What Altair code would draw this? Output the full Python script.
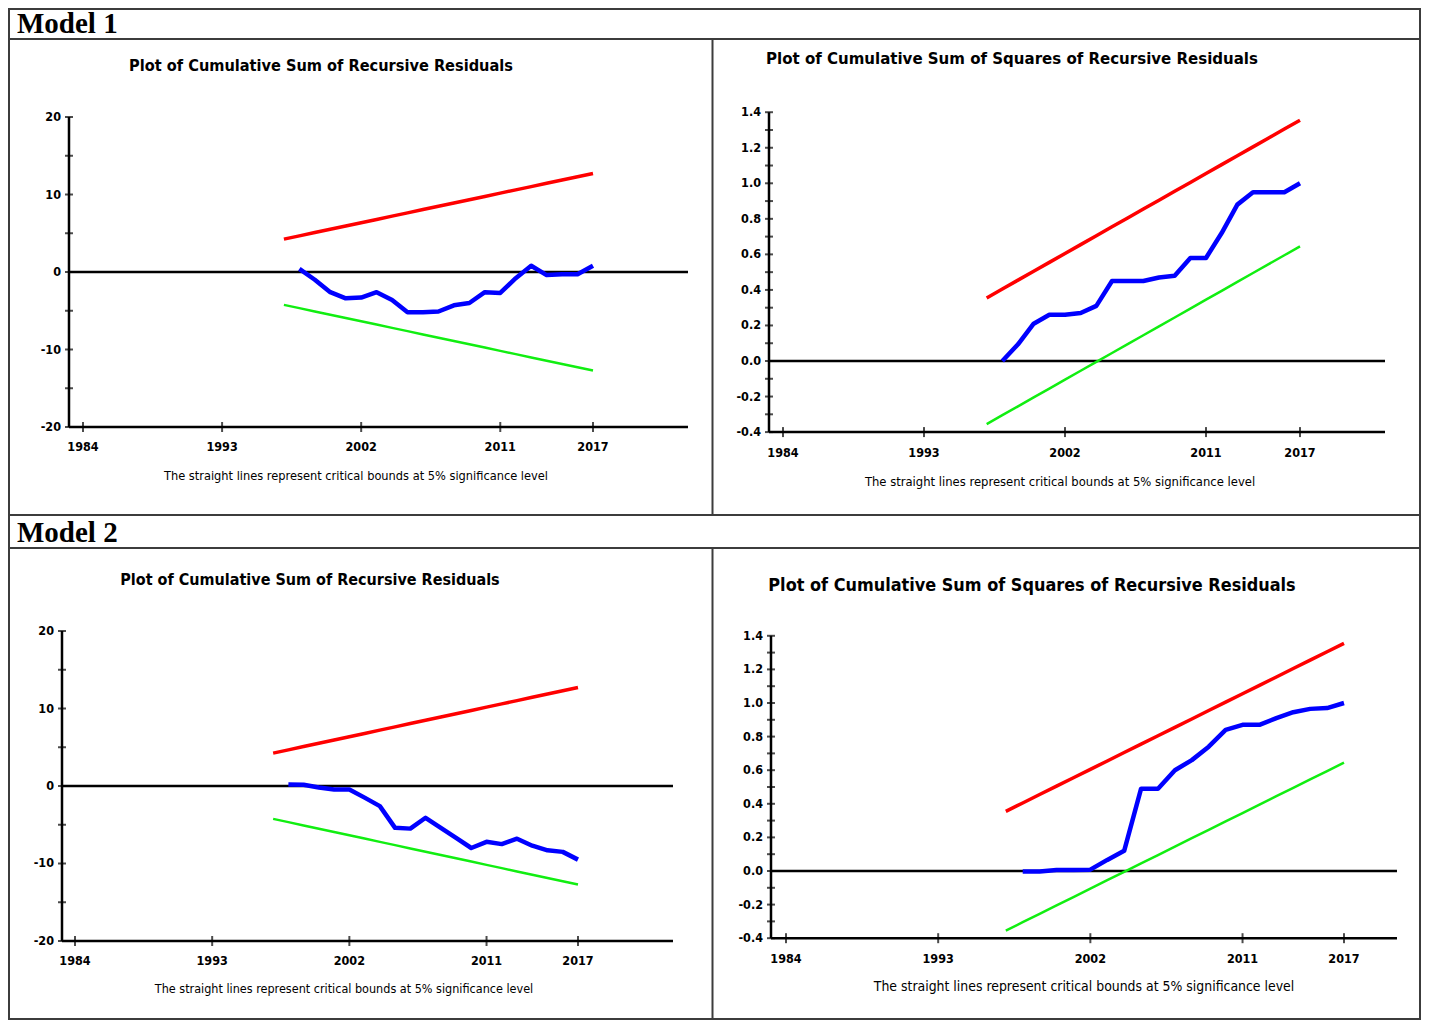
import altair as alt
import pandas as pd

# ---------------- data ----------------
YEARS_BOUNDS = [1997, 1998, 1999, 2000, 2001, 2002, 2003, 2004, 2005, 2006, 2007,
                2008, 2009, 2010, 2011, 2012, 2013, 2014, 2015, 2016, 2017]
YEARS_RES = [1998, 1999, 2000, 2001, 2002, 2003, 2004, 2005, 2006, 2007,
             2008, 2009, 2010, 2011, 2012, 2013, 2014, 2015, 2016, 2017]

CUSUM_UPPER = [4.24, 4.66, 5.09, 5.51, 5.94, 6.36, 6.78, 7.21, 7.63, 8.06, 8.48,
               8.90, 9.33, 9.75, 10.18, 10.60, 11.02, 11.45, 11.87, 12.30, 12.72]
CUSUM_LOWER = [-4.24, -4.66, -5.09, -5.51, -5.94, -6.36, -6.78, -7.21, -7.63, -8.06, -8.48,
               -8.90, -9.33, -9.75, -10.18, -10.60, -11.02, -11.45, -11.87, -12.30, -12.72]
CUSUMSQ_UPPER = [0.355, 0.405, 0.455, 0.505, 0.555, 0.605, 0.655, 0.705, 0.755, 0.805, 0.855,
                 0.905, 0.955, 1.005, 1.055, 1.105, 1.155, 1.205, 1.255, 1.305, 1.355]
CUSUMSQ_LOWER = [-0.355, -0.305, -0.255, -0.205, -0.155, -0.105, -0.055, -0.005, 0.045, 0.095, 0.145,
                 0.195, 0.245, 0.295, 0.345, 0.395, 0.445, 0.495, 0.545, 0.595, 0.645]

M1_CUSUM = [0.4, -1.0, -2.6, -3.4, -3.3, -2.6, -3.6, -5.2, -5.2, -5.1,
            -4.3, -4.0, -2.6, -2.7, -0.8, 0.8, -0.4, -0.3, -0.3, 0.8]
M1_CUSUMSQ = [0.0, 0.094, 0.21, 0.26, 0.26, 0.27, 0.31, 0.45, 0.45, 0.45,
              0.47, 0.48, 0.58, 0.58, 0.72, 0.88, 0.95, 0.95, 0.95, 1.0]
M2_CUSUM = [0.2, 0.15, -0.2, -0.45, -0.45, -1.5, -2.6, -5.4, -5.5, -4.1,
            -5.4, -6.7, -8.0, -7.2, -7.5, -6.8, -7.7, -8.3, -8.5, -9.5]
M2_CUSUMSQ = [-0.003, -0.003, 0.006, 0.006, 0.008, 0.066, 0.12, 0.49, 0.49, 0.60,
              0.66, 0.74, 0.84, 0.87, 0.87, 0.91, 0.945, 0.965, 0.97, 1.0]

X_TICKS = [1984, 1993, 2002, 2011, 2017]
X_TICK_LABELS = ["1984", "1993", "2002", "2011", "2017"]
CUSUM_YTICKS = [-20, -15, -10, -5, 0, 5, 10, 15, 20]
CUSUM_YLABELS = [-20, -10, 0, 10, 20]
CUSUM_YLABEL_TEXT = ["-20", "-10", "0", "10", "20"]
CUSUMSQ_YTICKS = [-0.4, -0.3, -0.2, -0.1, 0.0, 0.1, 0.2, 0.3, 0.4, 0.5, 0.6,
                  0.7, 0.8, 0.9, 1.0, 1.1, 1.2, 1.3, 1.4]
CUSUMSQ_YLABELS = [-0.4, -0.2, 0.0, 0.2, 0.4, 0.6, 0.8, 1.0, 1.2, 1.4]
CUSUMSQ_YLABEL_TEXT = ["-0.4", "-0.2", "0.0", "0.2", "0.4", "0.6", "0.8", "1.0", "1.2", "1.4"]

TITLE_CUSUM = "Plot of Cumulative Sum of Recursive Residuals"
TITLE_CUSUMSQ = "Plot of Cumulative Sum of Squares of Recursive Residuals"
CAPTION = "The straight lines represent critical bounds at 5% significance level"
HEADERS = ["Model 1", "Model 2"]

# ---------------- layout ----------------
W = 1411
H_HEAD1 = 30
H_ROW1 = 476
H_HEAD2 = 33
H_ROW2 = 471
DIVIDER_X = 703.5
NARROW = "DejaVu Sans Condensed, Liberation Sans, sans-serif"
FRAME = "#3c3c3c"

P1 = dict(xdom=[1979.212, 2070.512], ydom=[-31.355, 30.065], ax=[1983.094, 2023.147], ay=[-20, 20],
          title=(312, 27), tsize=16.2, cap=(347, 437), csize=12.7, ldy=20)
P2 = dict(xdom=[1934.596, 2024.659], ydom=[-0.8666, 1.8120], ax=[1983.106, 2022.425], ay=[-0.4, 1.4],
          title=(1003, 20), tsize=16.7, cap=(1051, 443), csize=12.9, ldy=21)
P3 = dict(xdom=[1979.670, 2072.243], ydom=[-30.065, 30.710], ax=[1983.147, 2023.233], ay=[-20, 20],
          title=(301, 32), tsize=16.0, cap=(335, 441), csize=12.5, ldy=20)
P4 = dict(xdom=[1938.049, 2021.495], ydom=[-0.8810, 1.9226], ax=[1983.113, 2020.134], ay=[-0.4, 1.4],
          title=(1023, 38), tsize=17.9, cap=(1075, 439), csize=13.9, ldy=21)


def panel_layers(cfg, res, upper, lower, yticks, ylabels, ylabel_text, title):
    xs = alt.Scale(domain=cfg["xdom"], nice=False, zero=False)
    ys = alt.Scale(domain=cfg["ydom"], nice=False, zero=False)

    def X(f):
        return alt.X(f, type="quantitative", scale=xs, axis=None)

    def Y(f):
        return alt.Y(f, type="quantitative", scale=ys, axis=None)

    ax0, ax1 = cfg["ax"]
    ymin, ymax = cfg["ay"]
    df_b = pd.DataFrame({"year": YEARS_BOUNDS, "upper": upper, "lower": lower})
    df_r = pd.DataFrame({"year": YEARS_RES, "v": res})
    df_ax = pd.DataFrame({"x0": [ax0], "x1": [ax1], "y0": [ymin], "y1": [ymax], "z": [0]})
    df_yt = pd.DataFrame({"v": yticks, "x": [ax0] * len(yticks)})
    df_yl = pd.DataFrame({"v": ylabels, "x": [ax0] * len(ylabels), "t": ylabel_text})
    df_xt = pd.DataFrame({"yr": X_TICKS, "y": [ymin] * len(X_TICKS), "t": X_TICK_LABELS})

    layers = [
        alt.Chart(df_ax).mark_rule(color="black", strokeWidth=2.5).encode(
            x=X("x0"), x2=alt.X2("x1"), y=Y("z")),
        alt.Chart(df_b).mark_line(color="#ff0000", strokeWidth=3.5).encode(x=X("year"), y=Y("upper")),
        alt.Chart(df_b).mark_line(color="#11ee11", strokeWidth=2.5).encode(x=X("year"), y=Y("lower")),
        alt.Chart(df_r).mark_line(color="#0000ff", strokeWidth=4.5, strokeJoin="round").encode(
            x=X("year"), y=Y("v")),
        alt.Chart(df_ax).mark_rule(color="black", strokeWidth=2.5).encode(
            x=X("x0"), y=Y("y0"), y2=alt.Y2("y1")),
        alt.Chart(df_ax).mark_rule(color="black", strokeWidth=2.5).encode(
            x=X("x0"), x2=alt.X2("x1"), y=Y("y0")),
        alt.Chart(df_yt).mark_tick(orient="horizontal", size=8, thickness=2, color="black").encode(
            x=X("x"), y=Y("v")),
        alt.Chart(df_xt).mark_tick(orient="vertical", size=10, thickness=2, color="black").encode(
            x=X("yr"), y=Y("y")),
        alt.Chart(df_yl).mark_text(align="right", baseline="middle", dx=-8, font=NARROW,
                                   fontSize=12.5, fontWeight="bold", color="black").encode(
            x=X("x"), y=Y("v"), text="t:N"),
        alt.Chart(df_xt).mark_text(align="center", baseline="middle", dy=cfg["ldy"], font=NARROW,
                                   fontSize=12.5, fontWeight="bold", color="black").encode(
            x=X("yr"), y=Y("y"), text="t:N"),
        alt.Chart(pd.DataFrame({"t": [title]})).mark_text(
            align="center", baseline="middle", font=NARROW, fontSize=cfg["tsize"],
            fontWeight="bold", color="black").encode(
            x=alt.value(cfg["title"][0]), y=alt.value(cfg["title"][1]), text="t:N"),
        alt.Chart(pd.DataFrame({"t": [CAPTION]})).mark_text(
            align="center", baseline="middle", font=NARROW, fontSize=cfg["csize"], color="black").encode(
            x=alt.value(cfg["cap"][0]), y=alt.value(cfg["cap"][1]), text="t:N"),
    ]
    return layers


def divider(h):
    return alt.Chart(pd.DataFrame({"a": [0]})).mark_rule(color=FRAME, strokeWidth=2).encode(
        x=alt.value(DIVIDER_X), y=alt.value(0), y2=alt.value(h))


def header(text, h, base):
    return alt.Chart(pd.DataFrame({"t": [text]})).mark_text(
        align="left", baseline="alphabetic", font="Liberation Serif, Times New Roman, serif",
        fontSize=29, fontWeight="bold", color="black").encode(
        x=alt.value(8), y=alt.value(base), text="t:N").properties(width=W, height=h)


row1 = alt.layer(
    *panel_layers(P1, M1_CUSUM, CUSUM_UPPER, CUSUM_LOWER, CUSUM_YTICKS, CUSUM_YLABELS,
                  CUSUM_YLABEL_TEXT, TITLE_CUSUM),
    *panel_layers(P2, M1_CUSUMSQ, CUSUMSQ_UPPER, CUSUMSQ_LOWER, CUSUMSQ_YTICKS, CUSUMSQ_YLABELS,
                  CUSUMSQ_YLABEL_TEXT, TITLE_CUSUMSQ),
    divider(H_ROW1),
).resolve_scale(x="independent", y="independent").properties(width=W, height=H_ROW1)

row2 = alt.layer(
    *panel_layers(P3, M2_CUSUM, CUSUM_UPPER, CUSUM_LOWER, CUSUM_YTICKS, CUSUM_YLABELS,
                  CUSUM_YLABEL_TEXT, TITLE_CUSUM),
    *panel_layers(P4, M2_CUSUMSQ, CUSUMSQ_UPPER, CUSUMSQ_LOWER, CUSUMSQ_YTICKS, CUSUMSQ_YLABELS,
                  CUSUMSQ_YLABEL_TEXT, TITLE_CUSUMSQ),
    divider(H_ROW2),
).resolve_scale(x="independent", y="independent").properties(width=W, height=H_ROW2)

chart = alt.vconcat(
    header(HEADERS[0], H_HEAD1, 24), row1, header(HEADERS[1], H_HEAD2, 27), row2,
    spacing=0, bounds="flush",
).properties(padding=0, background="white").configure_view(stroke=FRAME, strokeWidth=2)

chart.save("out.html", embed_options={"renderer": "svg", "actions": False})
